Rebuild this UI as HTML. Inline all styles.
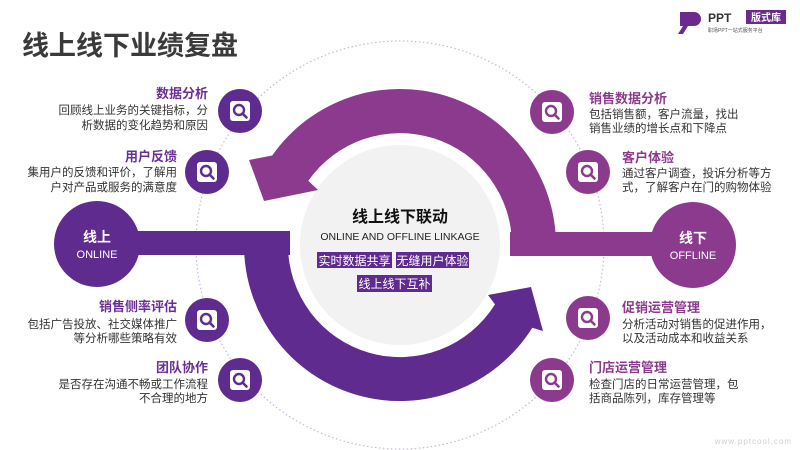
<!DOCTYPE html>
<html><head><meta charset="utf-8"><style>
html,body{margin:0;padding:0;background:#fff;width:800px;height:450px;overflow:hidden;}
svg{display:block;font-family:"Liberation Sans","Noto Sans CJK SC",sans-serif;}
</style></head><body>
<svg width="800" height="450" viewBox="0 0 800 450" xmlns="http://www.w3.org/2000/svg">
<defs>
<g id="mag">
  <rect x="-10" y="-10" width="20" height="20" rx="3" fill="#fff"/>
  <circle cx="-1" cy="-1" r="5" fill="none" stroke="currentColor" stroke-width="2.4"/>
  <line x1="2.5" y1="2.5" x2="6.5" y2="6.5" stroke="currentColor" stroke-width="2.6" stroke-linecap="round"/>
</g>
</defs>
<text x="22" y="55" font-size="27" font-weight="bold" fill="#3a3a3a">线上线下业绩复盘</text>
<path d="M680 12 h14 a7 7 0 0 1 0 14 h-6 l-5 8 h-5 l5 -8 h-3 z" fill="#6a2a8e"/>
<text x="708" y="22" font-size="12" font-weight="bold" fill="#333">PPT</text>
<rect x="746" y="10" width="40" height="14" fill="#6a2a8e"/>
<text x="766" y="21" font-size="10" font-weight="bold" fill="#fff" text-anchor="middle">版式库</text>
<text x="708" y="32" font-size="5" fill="#555">职场PPT一站式服务平台</text>

<circle cx="400" cy="245" r="204" fill="none" stroke="#c9b6d9" stroke-width="1.2" stroke-dasharray="1.5 2.5"/>

<circle cx="400" cy="245" r="100" fill="#f2f2f2"/>

<rect x="95" y="231" width="195" height="24" fill="#5f2b8e"/>
<rect x="510" y="232" width="185" height="24" fill="#8c3a8d"/>

<path d="M556 256 L556 245 A156 156 0 0 0 272.2 155.5 L249 160 L264 201 L318 190 L308.3 180.8 A112 112 0 0 1 512 245 L512 256 Z" fill="#8c3a8d"/>
<path d="M244 231 L244 245 A156 156 0 0 0 532.3 327.7 L543 331 L531 287 L488 295 L495 304.4 A112 112 0 0 1 288 245 L288 231 Z" fill="#5f2b8e"/>

<circle cx="97" cy="244" r="43" fill="#5f2b8e"/>
<text x="97" y="242" font-size="14" font-weight="bold" fill="#fff" text-anchor="middle">线上</text>
<text x="97" y="258" font-size="11" fill="#fff" text-anchor="middle">ONLINE</text>
<circle cx="693" cy="245" r="43" fill="#8c3a8d"/>
<text x="693" y="243" font-size="14" font-weight="bold" fill="#fff" text-anchor="middle">线下</text>
<text x="693" y="259" font-size="11" fill="#fff" text-anchor="middle">OFFLINE</text>

<text x="400" y="222" font-size="16" font-weight="bold" fill="#111" text-anchor="middle">线上线下联动</text>
<text x="400" y="240" font-size="10.5" fill="#222" text-anchor="middle">ONLINE AND OFFLINE LINKAGE</text>
<rect x="317" y="252" width="75" height="16" fill="#5f2b8e"/>
<text x="354.5" y="265" font-size="12" fill="#fff" text-anchor="middle">实时数据共享</text>
<rect x="396" y="252" width="73" height="16" fill="#5f2b8e"/>
<text x="432.5" y="265" font-size="12" fill="#fff" text-anchor="middle">无缝用户体验</text>
<rect x="357" y="275" width="75" height="17" fill="#5f2b8e"/>
<text x="394.5" y="288" font-size="12" fill="#fff" text-anchor="middle">线上线下互补</text>

<g color="#5f2b8e">
<circle cx="240" cy="111" r="22" fill="#5f2b8e"/><use href="#mag" x="240" y="111"/>
<circle cx="207" cy="172" r="22" fill="#5f2b8e"/><use href="#mag" x="207" y="172"/>
<circle cx="207" cy="320" r="22" fill="#5f2b8e"/><use href="#mag" x="207" y="320"/>
<circle cx="240" cy="380" r="22" fill="#5f2b8e"/><use href="#mag" x="240" y="380"/>
</g>
<g color="#8c3a8d">
<circle cx="552" cy="112" r="22" fill="#8c3a8d"/><use href="#mag" x="552" y="112"/>
<circle cx="588" cy="172" r="22" fill="#8c3a8d"/><use href="#mag" x="588" y="172"/>
<circle cx="588" cy="318" r="22" fill="#8c3a8d"/><use href="#mag" x="588" y="318"/>
<circle cx="552" cy="380" r="22" fill="#8c3a8d"/><use href="#mag" x="552" y="380"/>
</g>

<g text-anchor="end" font-size="11.5" fill="#333">
<text x="208" y="98" font-size="13" font-weight="bold" fill="#6a2f93">数据分析</text>
<text x="208" y="114">回顾线上业务的关键指标，分</text>
<text x="208" y="129">析数据的变化趋势和原因</text>
<text x="177" y="161" font-size="13" font-weight="bold" fill="#6a2f93">用户反馈</text>
<text x="177" y="176">集用户的反馈和评价，了解用</text>
<text x="177" y="191">户对产品或服务的满意度</text>
<text x="177" y="311" font-size="13" font-weight="bold" fill="#6a2f93">销售侧率评估</text>
<text x="177" y="328">包括广告投放、社交媒体推广</text>
<text x="177" y="342">等分析哪些策略有效</text>
<text x="208" y="372" font-size="13" font-weight="bold" fill="#6a2f93">团队协作</text>
<text x="208" y="388">是否存在沟通不畅或工作流程</text>
<text x="208" y="402">不合理的地方</text>
</g>
<g font-size="11.5" fill="#333">
<text x="589" y="103" font-size="13" font-weight="bold" fill="#8c3a8d">销售数据分析</text>
<text x="589" y="118">包括销售额，客户流量，找出</text>
<text x="589" y="132">销售业绩的增长点和下降点</text>
<text x="622" y="162" font-size="13" font-weight="bold" fill="#8c3a8d">客户体验</text>
<text x="622" y="177">通过客户调查，投诉分析等方</text>
<text x="622" y="191">式，了解客户在门的购物体验</text>
<text x="622" y="312" font-size="13" font-weight="bold" fill="#8c3a8d">促销运营管理</text>
<text x="622" y="328">分析活动对销售的促进作用，</text>
<text x="622" y="342">以及活动成本和收益关系</text>
<text x="589" y="372" font-size="13" font-weight="bold" fill="#8c3a8d">门店运营管理</text>
<text x="589" y="388">检查门店的日常运营管理，包</text>
<text x="589" y="402">括商品陈列，库存管理等</text>
</g>
<text x="792" y="444" font-size="8" fill="#d0d0d0" text-anchor="end" letter-spacing="1">www.pptcool.com</text>
</svg>
</body></html>
